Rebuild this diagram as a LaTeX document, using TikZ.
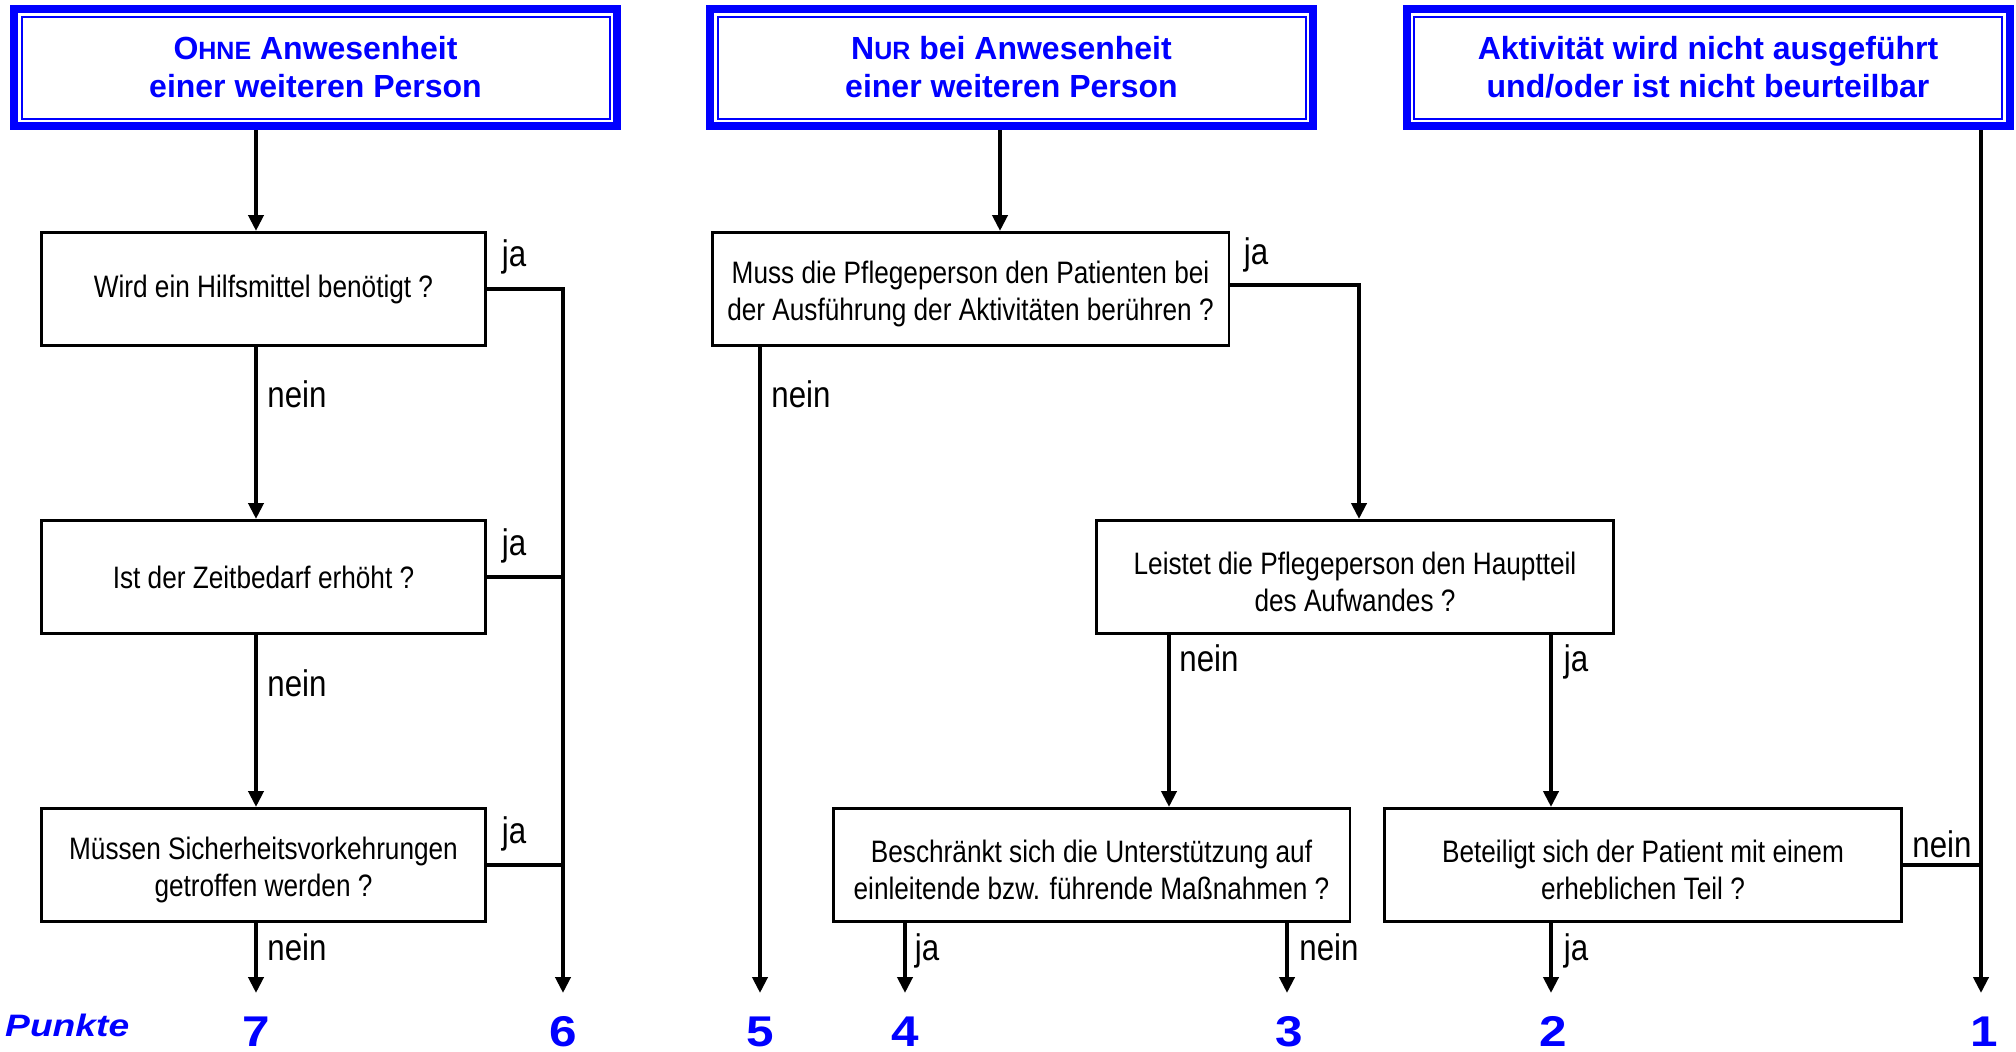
\documentclass[tikz,border=0pt]{standalone}
\usepackage{fontspec}
\setmainfont{Liberation Sans}
\newfontfamily\narrowfont[FakeStretch=0.845]{Liberation Sans}
\newfontfamily\widefont[FakeStretch=1.15]{Liberation Sans}
\newfontfamily\punktefont[FakeStretch=1.2]{Liberation Sans}
\usetikzlibrary{arrows.meta}
\definecolor{hblue}{RGB}{0,0,255}
% extra room above the first line of two-line questions
\newcommand\qtop{\rule{0pt}{32pt}}

\begin{document}
\begin{tikzpicture}[x=1pt,y=-1pt,
  head/.style={draw=hblue, line width=8pt, minimum width=603pt, minimum height=117pt,
    inner sep=0pt, align=center, text=hblue, font=\bfseries\fontsize{32}{38}\selectfont},
  headline/.style={draw=hblue, line width=2pt},
  qbox/.style={draw, line width=2.8pt, inner sep=0pt, align=center, minimum height=113.2pt,
    font=\narrowfont\fontsize{31}{37}\selectfont},
  qleft/.style={qbox, minimum width=444.2pt},
  qmid/.style={qbox, minimum width=516.8pt},
  lbl/.style={inner sep=0pt, anchor=base, font=\narrowfont\fontsize{37}{40}\selectfont},
  num/.style={inner sep=0pt, anchor=base, text=hblue, font=\widefont\bfseries\fontsize{43}{43}\selectfont},
  conn/.style={line width=4pt},
  arr/.style={conn, -{Triangle[length=16pt,width=15pt]}}
]
\useasboundingbox (0,0) rectangle (2016,1052);

% column positions and end points of the arrows
\coordinate (cL) at (256,0);
\coordinate (cM) at (1000,0);
\coordinate (cA) at (1169,0);
\coordinate (c2) at (1551,0);
\coordinate (c6) at (563,0);
\coordinate (c1) at (1981,0);
\coordinate (e7) at (256,993);
\coordinate (e6) at (563,993);
\coordinate (e5) at (760,993);
\coordinate (e4) at (905,993);
\coordinate (e3) at (1287,993);
\coordinate (e2) at (1551,993);
\coordinate (e1) at (1981,993);

% header boxes with double blue frame
\node[head] (h1) at (315.5,67.5) {O{\fontsize{25}{38}\selectfont HNE} Anwesenheit\\einer weiteren Person};
\node[head] (h2) at (1011.5,67.5) {N{\fontsize{25}{38}\selectfont UR} bei Anwesenheit\\einer weiteren Person};
\node[head] (h3) at (1708,67.5) {Aktivität wird nicht ausgeführt\\und/oder ist nicht beurteilbar};
\foreach \h in {h1,h2,h3}
  \draw[headline] ([shift={(11.5,11.5)}]\h.north west) rectangle ([shift={(-11.5,-11.5)}]\h.south east);

% question boxes
\node[qleft] (q1) at (263.5,289) {Wird ein Hilfsmittel benötigt ?};
\node[qleft] (q2) at (263.5,577) {Ist der Zeitbedarf erhöht ?};
\node[qleft] (q3) at (263.5,865) {\qtop Müssen Sicherheitsvorkehrungen\\getroffen werden ?};
\node[qmid] (m1) at (970.5,289) {\qtop Muss die Pflegeperson den Patienten bei\\der Ausführung der Aktivitäten berühren ?};
\node[qmid] (m2) at (1355,577) {\qtop Leistet die Pflegeperson den Hauptteil\\des Aufwandes ?};
\node[qmid] (m3) at (1091.5,865) {\qtop Beschränkt sich die Unterstützung auf\\einleitende bzw. führende Maßnahmen ?};
\node[qmid] (m4) at (1643,865) {\qtop Beteiligt sich der Patient mit einem\\erheblichen Teil ?};

% left column
\draw[arr] (h1.south -| cL) -- (q1.north -| cL);
\draw[arr] (q1.south -| cL) -- (q2.north -| cL);
\draw[arr] (q2.south -| cL) -- (q3.north -| cL);
\draw[arr] (q3.south -| cL) -- (e7);
\draw[arr] (q1.east) -| (e6);
\draw[conn] (q2.east) -- (q2.east -| c6);
\draw[conn] (q3.east) -- (q3.east -| c6);

% middle column
\draw[arr] (h2.south -| cM) -- (m1.north -| cM);
\draw[arr] ([yshift=4pt]m1.east) -| ([xshift=4pt]m2.north);
\draw[arr] (m1.south -| e5) -- (e5);
\draw[arr] (m2.south -| cA) -- (m3.north -| cA);
\draw[arr] (m2.south -| c2) -- (m4.north -| c2);
\draw[arr] (m3.south -| e4) -- (e4);
\draw[arr] (m3.south -| e3) -- (e3);
\draw[arr] (m4.south -| e2) -- (e2);

% right column
\draw[arr] (h3.south -| c1) -- (e1);
\draw[conn] (m4.east) -- (m4.east -| c1);

% branch labels
\node[lbl] (lj1) at (514,266) {ja};
\node[lbl] (lj2) at (514,555) {ja};
\node[lbl] (lj3) at (514,843) {ja};
\node[lbl] (ln1) at (297,407) {nein};
\node[lbl] (ln2) at (297,696) {nein};
\node[lbl] (ln3) at (297,960) {nein};
\node[lbl] (mj1) at (1256,264) {ja};
\node[lbl] (mn1) at (801,407) {nein};
\node[lbl] (mn2) at (1209,671) {nein};
\node[lbl] (mj2) at (1576,671) {ja};
\node[lbl] (mj3) at (927,960) {ja};
\node[lbl] (mn3) at (1329,960) {nein};
\node[lbl] (mj4) at (1576,960) {ja};
\node[lbl] (rn1) at (1942,857) {nein};

% score row
\node[inner sep=0pt, anchor=base west, text=hblue, font=\punktefont\bfseries\itshape\fontsize{31}{31}\selectfont] (pk) at (5,1036) {Punkte};
\node[num] (p7) at (256,1046) {7};
\node[num] (p6) at (563,1046) {6};
\node[num] (p5) at (760,1046) {5};
\node[num] (p4) at (905,1046) {4};
\node[num] (p3) at (1289,1046) {3};
\node[num] (p2) at (1553,1046) {2};
\node[num] (p1) at (1984,1046) {1};
\end{tikzpicture}
\end{document}
